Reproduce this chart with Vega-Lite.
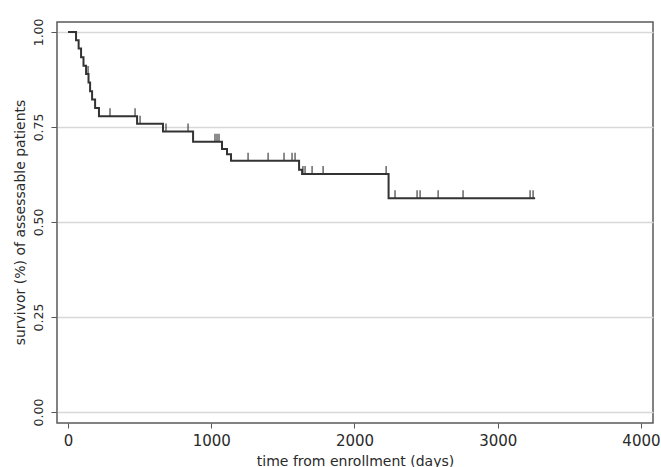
{
  "$schema": "https://vega.github.io/schema/vega-lite/v6.json",
  "autosize": {"type": "none"},
  "padding": {"left": 57, "top": 22, "right": 8, "bottom": 44},
  "width": 596,
  "height": 401,
  "background": "white",
  "config": {
    "view": {"stroke": "#5a5a5a", "strokeWidth": 1.5},
    "font": "DejaVu Sans",
    "axis": {
      "labelFont": "DejaVu Sans",
      "titleFont": "DejaVu Sans",
      "labelColor": "#2a2a2a",
      "titleColor": "#2a2a2a",
      "titleFontWeight": "normal",
      "tickColor": "#555",
      "domain": false
    }
  },
  "datasets": {
    "curve": [
      {"t": 0, "s": 1.0},
      {"t": 56, "s": 0.978},
      {"t": 74, "s": 0.956},
      {"t": 91, "s": 0.933},
      {"t": 108, "s": 0.911},
      {"t": 126, "s": 0.889},
      {"t": 143, "s": 0.867},
      {"t": 154, "s": 0.844},
      {"t": 168, "s": 0.822},
      {"t": 189, "s": 0.800},
      {"t": 216, "s": 0.778},
      {"t": 482, "s": 0.758},
      {"t": 663, "s": 0.738},
      {"t": 873, "s": 0.711},
      {"t": 1075, "s": 0.692},
      {"t": 1110, "s": 0.678},
      {"t": 1138, "s": 0.661},
      {"t": 1613, "s": 0.637},
      {"t": 1634, "s": 0.626},
      {"t": 2238, "s": 0.562},
      {"t": 3261, "s": 0.562}
    ],
    "censor": [
      {"t": 140, "s": 0.889},
      {"t": 293, "s": 0.778},
      {"t": 468, "s": 0.778},
      {"t": 503, "s": 0.758},
      {"t": 684, "s": 0.738},
      {"t": 838, "s": 0.738},
      {"t": 1026, "s": 0.711},
      {"t": 1040, "s": 0.711},
      {"t": 1054, "s": 0.711},
      {"t": 1257, "s": 0.661},
      {"t": 1397, "s": 0.661},
      {"t": 1508, "s": 0.661},
      {"t": 1564, "s": 0.661},
      {"t": 1585, "s": 0.661},
      {"t": 1640, "s": 0.626},
      {"t": 1655, "s": 0.626},
      {"t": 1704, "s": 0.626},
      {"t": 1781, "s": 0.626},
      {"t": 2221, "s": 0.626},
      {"t": 2283, "s": 0.562},
      {"t": 2437, "s": 0.562},
      {"t": 2458, "s": 0.562},
      {"t": 2584, "s": 0.562},
      {"t": 2758, "s": 0.562},
      {"t": 3226, "s": 0.562},
      {"t": 3247, "s": 0.562}
    ]
  },
  "encoding": {
    "x": {
      "field": "t",
      "type": "quantitative",
      "scale": {"domain": [-77, 4084], "nice": false, "zero": false},
      "axis": {
        "values": [0, 1000, 2000, 3000, 4000],
        "format": "d",
        "title": "time from enrollment (days)",
        "grid": false,
        "tickSize": 5,
        "labelFontSize": 15,
        "labelPadding": 5,
        "titleFontSize": 14,
        "titleY": 42,
        "titleBaseline": "alphabetic"
      }
    },
    "y": {
      "field": "s",
      "type": "quantitative",
      "scale": {"domain": [-0.029, 1.026], "nice": false, "zero": false},
      "axis": {
        "values": [0, 0.25, 0.5, 0.75, 1],
        "format": ".2f",
        "title": "survivor (%) of assessable patients",
        "grid": true,
        "gridColor": "#d8d8d8",
        "gridWidth": 1.5,
        "tickSize": 6,
        "labelFontSize": 12.5,
        "labelAngle": 270,
        "labelAlign": "center",
        "labelBaseline": "bottom",
        "labelPadding": 6,
        "titleFontSize": 14,
        "titleAngle": 270,
        "titleX": -37,
        "titleY": 200,
        "titleAlign": "center",
        "titleBaseline": "middle"
      }
    }
  },
  "layer": [
    {
      "data": {"name": "curve"},
      "mark": {"type": "line", "interpolate": "step-after", "color": "#333333", "strokeWidth": 2}
    },
    {
      "data": {"name": "censor"},
      "mark": {"type": "tick", "orient": "vertical", "size": 8, "thickness": 1.6, "yOffset": -4, "color": "#333333"}
    }
  ]
}
